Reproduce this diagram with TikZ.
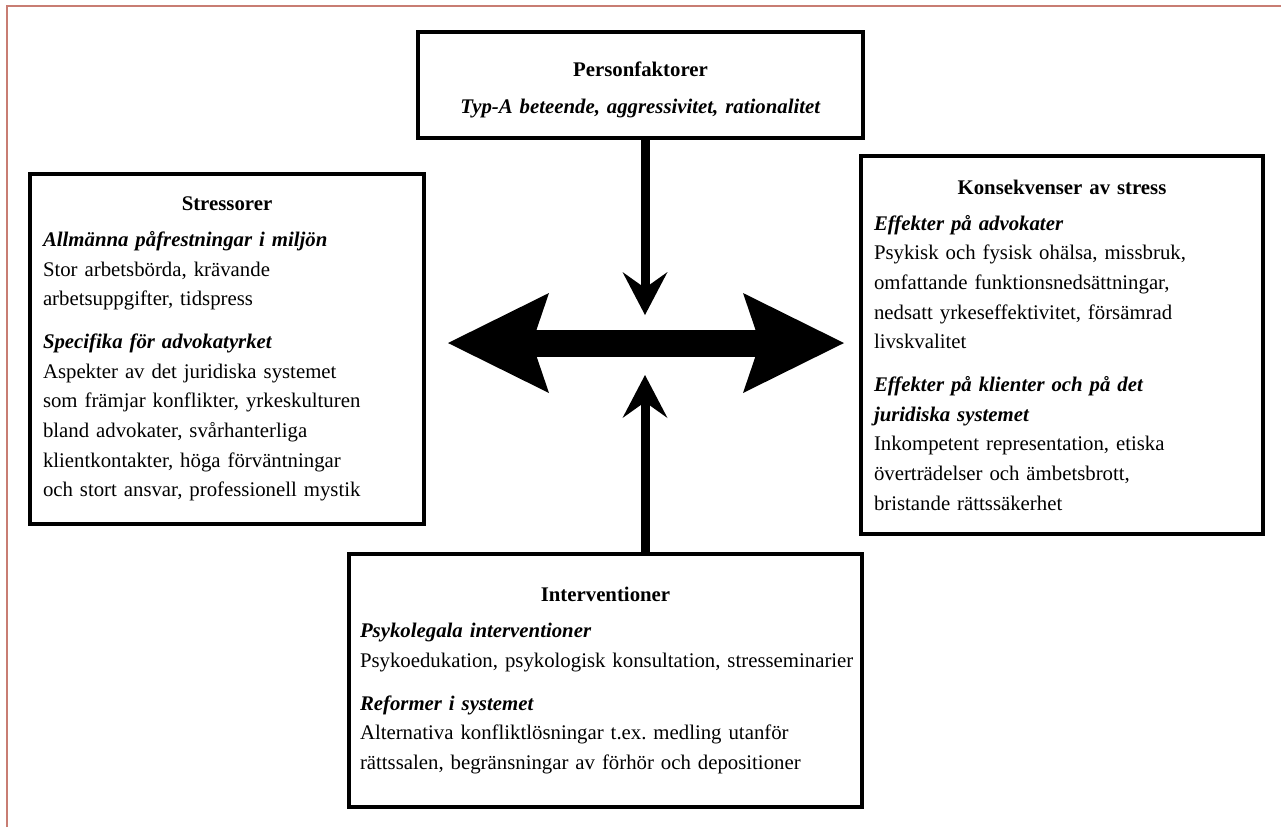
\documentclass[tikz,border=0pt]{standalone}
\usepackage{fontspec}
\setmainfont{Liberation Serif}
\usetikzlibrary{arrows.meta}
\definecolor{ramfarg}{RGB}{200,125,115}
\newcommand{\rubrik}[1]{{\centering\bfseries #1\par}\vspace{3.2pt}}
\newcommand{\underrubrik}[1]{\textbf{\textit{#1}}}
\tikzset{
	ruta/.style={draw, line width=2pt, align=left, inner xsep=6.5pt, inner ysep=0pt,
		font=\fontsize{10.4}{14.8}\selectfont\frenchspacing},
	pil/.style={line width=4.5pt, -{Stealth[length=21.5pt, width=22.5pt, inset=8pt, line width=0pt]}},
	dubbelpil/.style={line width=13.5pt,
		{Stealth[length=50.5pt, width=50pt, inset=8.5pt, line width=0pt]}-{Stealth[length=50.5pt, width=50pt, inset=8.5pt, line width=0pt]}},
}

\begin{document}
\begin{tikzpicture}[x=0.5pt, y=-0.5pt]
	\useasboundingbox (0,0) rectangle (1281,827);
	%Ram
	\draw [ramfarg, line width=0.8pt] (7,827) -- (7,6) -- (1281,6);
	%Personfaktorer
	\node [ruta, align=center, text width=209pt, minimum width=222.5pt, minimum height=53pt] (pf) at (640.5,85)
		{\rule{0pt}{12.5pt}\textbf{Personfaktorer}\par\vspace{3.5pt}\underrubrik{Typ-A beteende, aggressivitet, rationalitet}};
	%Stressorer
	\node [ruta, text width=184pt, minimum width=197pt, minimum height=175pt] (st) at (227,349) {%
		\rubrik{Stressorer}
		\underrubrik{Allmänna påfrestningar i miljön}\\
		Stor arbetsbörda, krävande\\
		arbetsuppgifter, tidspress\par\vspace{6.7pt}
		\underrubrik{Specifika för advokatyrket}\\
		Aspekter av det juridiska systemet\\
		som främjar konflikter, yrkeskulturen\\
		bland advokater, svårhanterliga\\
		klientkontakter, höga förväntningar\\
		och stort ansvar, professionell mystik};
	%Konsekvenser
	\node [ruta, text width=188pt, minimum width=201pt, minimum height=189pt] (ko) at (1062,345) {%
		\rubrik{Konsekvenser av stress}
		\underrubrik{Effekter på advokater}\\
		Psykisk och fysisk ohälsa, missbruk,\\
		omfattande funktionsnedsättningar,\\
		nedsatt yrkeseffektivitet, försämrad\\
		livskvalitet\par\vspace{6.7pt}
		\underrubrik{Effekter på klienter och på det}\\
		\underrubrik{juridiska systemet}\\
		Inkompetent representation, etiska\\
		överträdelser och ämbetsbrott,\\
		bristande rättssäkerhet};
	%Interventioner
	\node [ruta, inner xsep=5.5pt, text width=245.5pt, minimum width=256.5pt, minimum height=126.5pt] (iv) at (605.5,680.5) {%
		\rubrik{Interventioner}
		\underrubrik{Psykolegala interventioner}\\
		\mbox{Psykoedukation, psykologisk konsultation, stresseminarier}\par\vspace{6.7pt}
		\underrubrik{Reformer i systemet}\\
		Alternativa konfliktlösningar t.ex. medling utanför\\
		rättssalen, begränsningar av förhör och depositioner};
	%Pilar
	\coordinate (ned) at (645,315);
	\coordinate (upp) at (645,375);
	\coordinate (vspets) at (448,343);
	\coordinate (hspets) at (844,343);
	\draw [pil] (pf.south -| ned) -- (ned);
	\draw [pil] (iv.north -| upp) -- (upp);
	\draw [dubbelpil] (vspets) -- (hspets);
\end{tikzpicture}
\end{document}
